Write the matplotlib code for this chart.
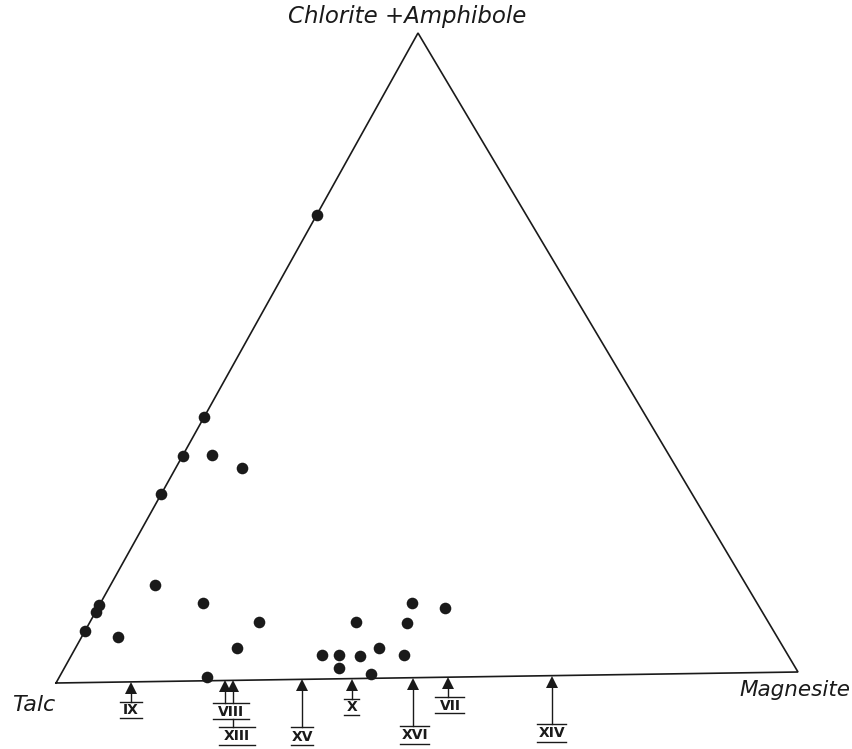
import matplotlib
matplotlib.use("Agg")
import matplotlib.pyplot as plt
import numpy as np

# Ternary data (percent Chlorite+Amphibole, percent Magnesite; Talc = remainder)
chl_amph = [72, 41, 35, 35, 33, 29, 15, 12, 11, 8, 7, 12, 9, 5, 0.6,
            11.6, 10.7, 8.8, 8.5, 3.7, 3.7, 1.7, 3.5, 4.7, 3.5, 0.7]
magnesite = [0, 0, 0, 4, 9, 0, 6, 0, 0, 0, 5, 14, 23, 22, 20,
             42.3, 47.2, 36.2, 43.2, 34, 36.3, 37.3, 39.3, 41.2, 45.2, 42.1]

# Samples marked on the Talc–Magnesite side (percent magnesite)
sample_labels = ["IX", "VIII", "XIII", "XV", "X", "XVI", "VII", "XIV"]
sample_magnesite = [10.1, 22.8, 23.9, 33.2, 39.9, 48.1, 52.8, 66.8]
sample_long = [False, False, True, True, False, True, False, True]

corner_names = ["Talc", "Chlorite +Amphibole", "Magnesite"]

# Layout (pixel frame of the figure)
T = np.array([56.0, 683.0])
M = np.array([798.0, 672.0])
C = np.array([418.0, 33.0])


def tern(c, m):
    c = np.asarray(c) / 100.0
    m = np.asarray(m) / 100.0
    t = 1 - c - m
    x = t * T[0] + m * M[0] + c * C[0]
    y = t * T[1] + m * M[1] + c * C[1]
    return x, y


fig = plt.figure(figsize=(8.53, 7.49), dpi=100)
ax = fig.add_axes([0, 0, 1, 1])
ax.set_xlim(0, 853)
ax.set_ylim(749, 0)
ax.axis("off")

ink = "#1a1a1a"
tri = np.array([T, M, C, T])
ax.plot(tri[:, 0], tri[:, 1], color=ink, lw=1.2, solid_joinstyle="miter")

x, y = tern(chl_amph, magnesite)
ax.scatter(x, y, s=70, color=ink, zorder=3, linewidths=0)

# Corner labels
lab_font = dict(style="italic", color=ink, family="DejaVu Sans")
ax.text(407, 16, corner_names[1], ha="center", va="center", fontsize=16.5, **lab_font)
ax.text(34, 705, corner_names[0], ha="center", va="center", fontsize=16, **lab_font)
ax.text(795, 690, corner_names[2], ha="center", va="center", fontsize=15.5, **lab_font)

# Sample arrows
label_pos = {"IX": 131, "VIII": 231, "XIII": 237, "XV": 302, "X": 352,
             "XVI": 415, "VII": 450, "XIV": 552}
for lab, mg, lng in zip(sample_labels, sample_magnesite, sample_long):
    bx, by = tern(0, mg)
    ty = by + 6
    ax.plot([bx], [ty], marker="^", ms=8, color=ink, mew=0)
    cx = label_pos[lab]
    if lng:
        top, mid, bot = by + 48, by + 57, by + 66
        if lab == "XIII":
            top, mid, bot = 727, 736, 745
    else:
        top, mid, bot = by + 20, by + 28, by + 36
        if lab == "VIII":
            top, mid, bot = 703, 711, 719
    if lab == "XIII":
        ax.plot([bx, bx], [ty, 703], color=ink, lw=1.0)
        ax.plot([bx, bx], [719, top], color=ink, lw=1.0)
    else:
        ax.plot([bx, bx], [ty, top], color=ink, lw=1.0)
    w = 7 * len(lab) + 8
    ax.plot([cx - w / 2, cx + w / 2], [top, top], color=ink, lw=1.0)
    ax.plot([cx - w / 2, cx + w / 2], [bot, bot], color=ink, lw=1.0)
    ax.text(cx, mid + 0.5, lab, ha="center", va="center", fontsize=10,
            fontweight="bold", color=ink, family="DejaVu Sans")

fig.savefig("out.png", dpi=100, facecolor="white")
